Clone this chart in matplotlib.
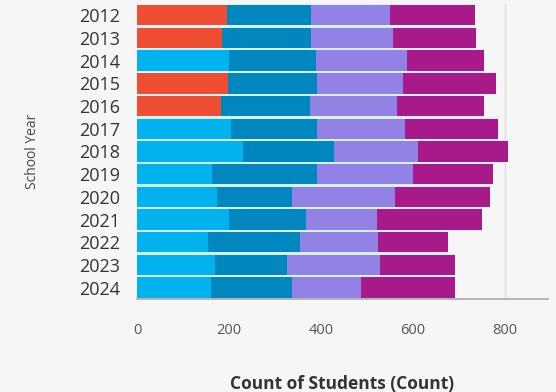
import matplotlib
matplotlib.use("Agg")
import matplotlib.pyplot as plt
import numpy as np

plt.rcParams['font.family'] = ['Open Sans', 'DejaVu Sans']

years = ["2012", "2013", "2014", "2015", "2016", "2017", "2018",
         "2019", "2020", "2021", "2022", "2023", "2024"]

# student counts per segment, left to right
seg1 = [196, 185, 199, 197, 182, 204, 230, 164, 173, 199, 155, 170, 161]
seg2 = [181, 194, 189, 194, 194, 187, 198, 228, 163, 168, 199, 155, 175]
seg3 = [172, 177, 199, 188, 189, 191, 183, 208, 225, 155, 170, 202, 150]
seg4 = [186, 180, 166, 200, 188, 202, 195, 174, 207, 228, 151, 165, 205]

# first segment is highlighted red in some years
seg1_flag = [True, True, False, True, True, False, False,
             False, False, False, False, False, False]

xticks = [0, 200, 400, 600, 800]

RED = "#f04e33"
CYAN = "#00b3ef"
BLUE = "#0087c0"
LAV = "#9382e6"
MAG = "#a8198a"
BG = "#f6f6f6"
SEP = "#d4f3ff"

fig = plt.figure(figsize=(5.56, 3.92), dpi=100, facecolor=BG)
ax = fig.add_axes([0.2464, 0.2372, 0.7392, 0.7528], facecolor=BG)

y = np.arange(len(years))
totals = np.array(seg1) + np.array(seg2) + np.array(seg3) + np.array(seg4)
# pale band behind each bar gives the thin separator between rows
ax.barh(y, totals, height=1.0, color=SEP, linewidth=0, zorder=2)

c1 = [RED if f else CYAN for f in seg1_flag]
left = np.zeros(len(years))
for vals, col in [(seg1, c1), (seg2, BLUE), (seg3, LAV), (seg4, MAG)]:
    ax.barh(y, vals, left=left, color=col, height=0.9, linewidth=0, zorder=3)
    left = left + np.array(vals)

ax.set_ylim(len(years) - 0.5, -0.5)
ax.set_xlim(0, 893)
ax.set_yticks(y)
ax.set_yticklabels(years, fontsize=13, color="#333333")
ax.set_xticks(xticks)
ax.set_xticklabels([str(t) for t in xticks], fontsize=10.5, color="#555555")
ax.tick_params(axis="both", length=0)
ax.tick_params(axis="y", pad=12)
ax.tick_params(axis="x", pad=17)

ax.grid(axis="x", color="#dddddd", linewidth=1, zorder=0)
ax.set_axisbelow(True)
for s in ["top", "right", "left"]:
    ax.spines[s].set_visible(False)
ax.spines["bottom"].set_color("#aaaaaa")
ax.spines["bottom"].set_linewidth(1.2)

ax.set_ylabel("School Year", fontsize=10, color="#444444", labelpad=28)
ax.set_xlabel("Count of Students (Count)", fontsize=12.5, fontweight="bold",
              color="#333333", labelpad=27)

fig.savefig("out.png", dpi=100, facecolor=BG)
